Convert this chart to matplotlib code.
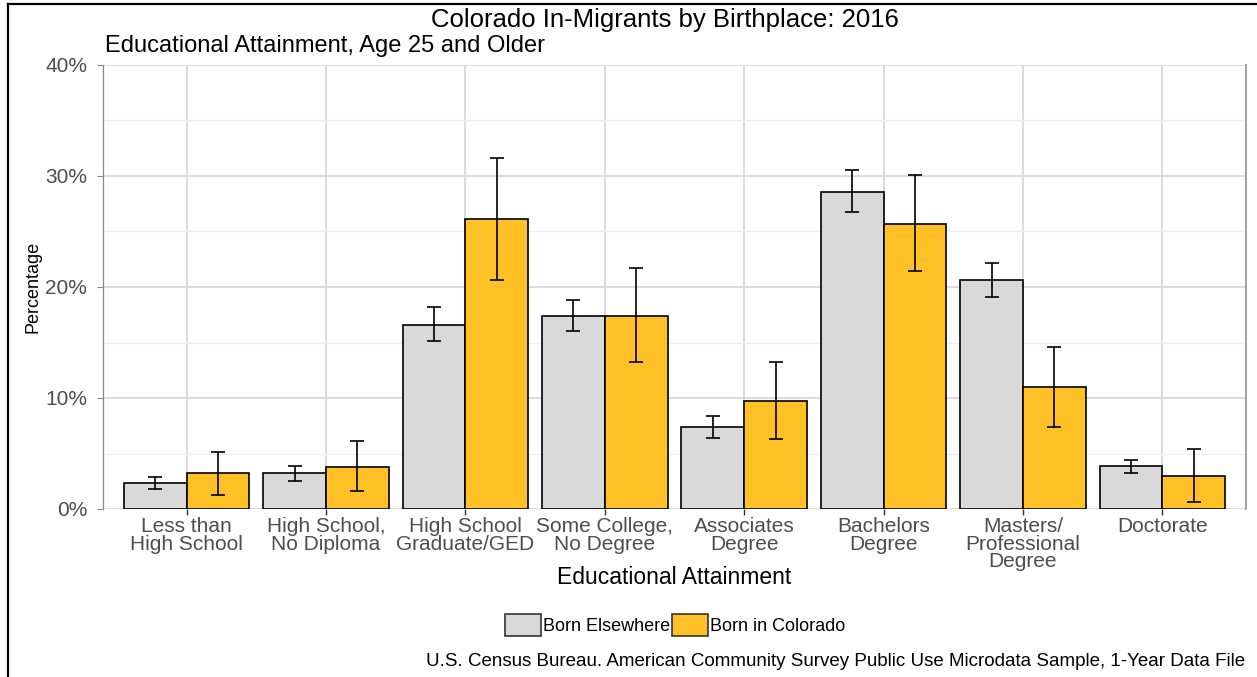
import numpy as np
import matplotlib
matplotlib.use('Agg')
import matplotlib.pyplot as plt
from matplotlib.lines import Line2D
from matplotlib.patches import Patch
from matplotlib.ticker import MultipleLocator, FuncFormatter

plt.rcParams['font.family'] = ['Liberation Sans', 'DejaVu Sans']

categories = ['Less than\nHigh School', 'High School,\nNo Diploma', 'High School\nGraduate/GED',
              'Some College,\nNo Degree', 'Associates\nDegree', 'Bachelors\nDegree',
              'Masters/\nProfessional\nDegree', 'Doctorate']
groups = ['Born Elsewhere', 'Born in Colorado']

# percentages with lower / upper confidence bounds
elsewhere = [2.3, 3.2, 16.6, 17.4, 7.4, 28.6, 20.6, 3.85]
elsewhere_lo = [1.8, 2.55, 15.1, 16.0, 6.4, 26.8, 19.1, 3.2]
elsewhere_hi = [2.9, 3.9, 18.2, 18.8, 8.4, 30.5, 22.2, 4.45]
colorado = [3.2, 3.8, 26.1, 17.4, 9.7, 25.7, 11.0, 3.0]
colorado_lo = [1.3, 1.6, 20.6, 13.2, 6.3, 21.4, 7.4, 0.6]
colorado_hi = [5.1, 6.1, 31.6, 21.7, 13.2, 30.1, 14.6, 5.4]

colors = ['#D9D9D9', '#FFC125']

fig = plt.figure(figsize=(12.57, 6.77), dpi=100)
ax = fig.add_axes([103 / 1257, 1 - 509 / 677, (1246 - 103) / 1257, (509 - 65) / 677])

x = np.arange(1, len(categories) + 1)
w = 0.45
series = [(elsewhere, elsewhere_lo, elsewhere_hi), (colorado, colorado_lo, colorado_hi)]
for i, (vals, lo, hi) in enumerate(series):
    vals = np.array(vals)
    pos = x + (i - 0.5) * w
    ax.bar(pos, vals, width=w, color=colors[i], edgecolor='black', linewidth=1.2,
           zorder=3, label=groups[i])
    yerr = [vals - np.array(lo), np.array(hi) - vals]
    ax.errorbar(pos, vals, yerr=yerr, fmt='none', ecolor='black', elinewidth=1.2,
                capsize=5, capthick=1.2, zorder=4)

ax.set_xlim(0.4, 8.6)
ax.set_ylim(0, 40)
ax.yaxis.set_major_locator(MultipleLocator(10))
ax.yaxis.set_minor_locator(MultipleLocator(5))
ax.yaxis.set_major_formatter(FuncFormatter(lambda v, p: f'{v:.0f}%'))
ax.set_xticks(x)
ax.set_xticklabels(categories, fontsize=15, color='#4d4d4d', linespacing=0.88)

ax.grid(True, which='major', axis='both', color='#d6d6d6', linewidth=1.2, zorder=0)
ax.grid(True, which='minor', axis='y', color='#eeeeee', linewidth=1.0, zorder=0)
ax.set_axisbelow(True)

ax.tick_params(axis='y', which='major', length=4.5, color='#888888', labelsize=15,
               labelcolor='#4d4d4d', pad=7)
ax.tick_params(axis='y', which='minor', length=0)
ax.tick_params(axis='x', length=4, color='#333333', width=1.0, pad=2)

for side in ['top', 'bottom']:
    ax.spines[side].set_visible(False)
ax.spines['left'].set_color('#888888')
ax.spines['left'].set_linewidth(0.9)
ax.spines['right'].set_color('#a0a0a0')
ax.spines['right'].set_linewidth(1.4)

ax.set_ylabel('Percentage', fontsize=13, va='center')
ax.yaxis.set_label_coords((33 - 103) / 1143, 0.5)
ax.set_xlabel('Educational Attainment', fontsize=16.5, va='center')
ax.xaxis.set_label_coords(0.5, (509 - 577) / 444)

fig.text(665 / 1257, 1 - 20 / 677, 'Colorado In-Migrants by Birthplace: 2016',
         ha='center', va='center', fontsize=18.5)
fig.text(105 / 1257, 1 - 46 / 677, 'Educational Attainment, Age 25 and Older',
         ha='left', va='center', fontsize=17)
fig.text(1245 / 1257, 1 - 661 / 677,
         'U.S. Census Bureau. American Community Survey Public Use Microdata Sample, 1-Year Data File',
         ha='right', va='center', fontsize=13.5)

handles = [Patch(facecolor=colors[i], edgecolor='#333333', linewidth=1.2, label=groups[i])
           for i in range(2)]
fig.legend(handles=handles, loc='center', bbox_to_anchor=(675 / 1257, 1 - 625 / 677),
           ncol=2, frameon=False, fontsize=13, handlelength=2.0, handleheight=1.5,
           handletextpad=0.1, columnspacing=0.1, borderpad=0)

# outer frame
fig.add_artist(Line2D([8 / 1257, 1], [1 - 4 / 677, 1 - 4 / 677], color='black', linewidth=1.6))
fig.add_artist(Line2D([8 / 1257, 8 / 1257], [0, 1 - 4 / 677], color='black', linewidth=1.6))

fig.savefig('out.png', dpi=100)
